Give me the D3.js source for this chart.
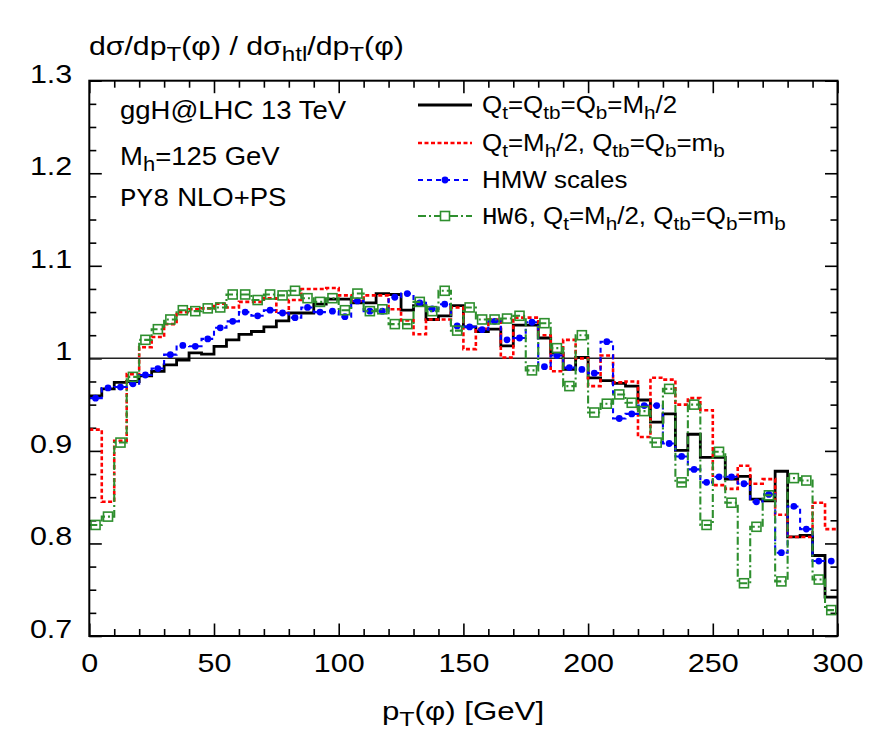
<!DOCTYPE html>
<html>
<head>
<meta charset="utf-8">
<script src="https://cdn.jsdelivr.net/npm/d3@7"></script>
<style>
  body { margin: 0; background: #fff; }
  svg text { font-family: "Liberation Sans", Arial, sans-serif; fill: #000; }
  svg .mono { font-family: "Liberation Mono", "Courier New", monospace; }
</style>
</head>
<body>
<svg id="chart" width="872" height="746"></svg>
<script>
(function () {

// bins of 5 GeV from 0 to 300
const binEdges = d3.range(0, 305, 5);

// Qt=Qtb=Qb=Mh/2
const ratioMh2 = [0.9595, 0.967, 0.974, 0.975, 0.981, 0.986, 0.993, 0.998, 1.006, 1.0045,
  1.013, 1.020, 1.026, 1.029, 1.034, 1.0405, 1.049, 1.049, 1.0585, 1.064,
  1.064, 1.060, 1.060, 1.070, 1.069, 1.052, 1.057, 1.042, 1.046, 1.057,
  1.034, 1.029, 1.0315, 1.0135, 1.036, 1.036, 1.022, 1.0056, 0.988, 1.001,
  0.979, 0.976, 0.973, 0.970, 0.955, 0.931, 0.940, 0.9005, 0.918, 0.893,
  0.893, 0.8695, 0.8724, 0.848, 0.846, 0.878, 0.807, 0.8086, 0.787, 0.742];

// Qt=Mh/2, Qtb=Qb=mb
const ratioMb = [0.923, 0.845, 0.911, 0.983, 1.012, 1.023, 1.037, 1.050, 1.053, 1.054,
  1.059, 1.055, 1.061, 1.061, 1.065, 1.049, 1.063, 1.075, 1.075, 1.076,
  1.068, 1.062, 1.068, 1.068, 1.053, 1.041, 1.026, 1.042, 1.042, 1.055,
  1.010, 1.032, 1.042, 1.001, 1.044, 1.044, 1.025, 0.986, 1.020, 1.000,
  0.970, 1.003, 0.974, 0.975, 0.915, 0.979, 0.977, 0.950, 0.957, 0.944,
  0.863, 0.859, 0.884, 0.8645, 0.8695, 0.831, 0.807, 0.807, 0.844, 0.8155];

// HMW scales
const ratioHMW = [0.957, 0.968, 0.969, 0.9725, 0.982, 0.989, 1.004, 1.014, 1.013, 1.021,
  1.033, 1.040, 1.050, 1.046, 1.052, 1.049, 1.044, 1.055, 1.050, 1.051,
  1.045, 1.062, 1.051, 1.051, 1.066, 1.070, 1.060, 1.0535, 1.0585, 1.035,
  1.034, 1.031, 1.040, 1.020, 1.022, 1.039, 0.991, 1.003, 0.990, 0.988,
  0.984, 1.018, 0.935, 0.940, 0.949, 0.949, 0.908, 0.894, 0.880, 0.866,
  0.872, 0.872, 0.8645, 0.845, 0.853, 0.790, 0.840, 0.8155, 0.781, 0.781];

// HW6, Qt=Mh/2, Qtb=Qb=mb
const ratioHW6 = [0.820, 0.829, 0.909, 0.980, 1.020, 1.0315, 1.042, 1.052, 1.051, 1.054,
  1.055, 1.069, 1.069, 1.063, 1.069, 1.068, 1.073, 1.065, 1.061, 1.065,
  1.052, 1.070, 1.051, 1.053, 1.037, 1.037, 1.061, 1.051, 1.073, 1.030,
  1.055, 1.042, 1.042, 1.043, 1.046, 0.987, 1.038, 1.011, 0.970, 1.025,
  0.9415, 0.951, 0.961, 0.952, 0.943, 0.909, 0.967, 0.866, 0.950, 0.820,
  0.899, 0.844, 0.757, 0.818, 0.852, 0.759, 0.8706, 0.868, 0.761, 0.728];

const xTicksMajor = [0, 50, 100, 150, 200, 250, 300];
const yTicksMajor = [0.7, 0.8, 0.9, 1.0, 1.1, 1.2, 1.3];

const series = [
  {name: 'mh2', values: ratioMh2, color: '#000000', width: 2.8, dash: null, marker: null,
   label: [['Q'], ['t', 1], ['=Q'], ['tb', 1], ['=Q'], ['b', 1], ['=M'], ['h', 1], ['/2']]},
  {name: 'mb', values: ratioMb, color: '#ff0000', width: 2.6, dash: '4,2.5', marker: null,
   label: [['Q'], ['t', 1], ['=M'], ['h', 1], ['/2, Q'], ['tb', 1], ['=Q'], ['b', 1], ['=m'], ['b', 1]]},
  {name: 'hmw', values: ratioHMW, color: '#0000ff', width: 2.1, dash: '5,4', marker: 'dot',
   label: [['HMW scales']]},
  {name: 'hw6', values: ratioHW6, color: '#2e8f2e', width: 2.1, dash: '8,3,2,3', marker: 'square',
   label: [['HW6', 0, 'mono'], [', Q'], ['t', 1], ['=M'], ['h', 1], ['/2, Q'], ['tb', 1], ['=Q'], ['b', 1], ['=m'], ['b', 1]]}
];

const svg = d3.select('#chart'),
    margin = {top: 80.7, right: 34.5, bottom: 110, left: 89.3},
    width = +svg.attr('width') - margin.left - margin.right,
    height = +svg.attr('height') - margin.top - margin.bottom;

const x = d3.scaleLinear().domain([0, 300]).range([0, width]);
const y = d3.scaleLinear().domain([0.7, 1.3]).range([height, 0]);

const g = svg.append('g')
  .attr('transform', 'translate(' + margin.left + ',' + margin.top + ')');

g.append('clipPath').attr('id', 'plotclip')
  .append('rect').attr('width', width).attr('height', height);

// write text with subscripts; segments are [text, isSub, cls]
// the reference font is wider than ours, so text gets stretched by sx
function richText(parent, segs, size, px, py, sx) {
  const t = parent.append('text')
    .style('font-size', size + 'px')
    .attr('transform', 'translate(' + px + ',' + py + ') scale(' + sx + ',1)');
  let down = false;
  segs.forEach(function(s) {
    const sp = t.append('tspan').text(s[0]);
    if (s[2]) sp.attr('class', s[2]);
    if (s[1]) {
      sp.style('font-size', (size * 0.8) + 'px');
      if (!down) sp.attr('dy', 6);
      down = true;
    } else if (down) {
      sp.attr('dy', -6);
      down = false;
    }
  });
  return t;
}

// axes: ticks inward on all four sides
const tickStretch = 1.22;
const fmt = function(d) { return String(+d.toFixed(1)); };
const xMinor = d3.range(0, 301, 10).filter(function(d) { return d % 50 !== 0; });
const yMinor = d3.range(0, 25).map(function(i) { return 0.7 + i * 0.025; })
  .filter(function(d, i) { return i % 4 !== 0; });

function tickAxis(axisFn, scale, values, size, withLabels, pad) {
  const a = axisFn(scale).tickValues(values).tickSize(-size).tickSizeOuter(0).tickPadding(pad || 0);
  if (!withLabels) a.tickFormat('');
  else a.tickFormat(fmt);
  return a;
}

const axes = [
  {fn: d3.axisBottom, s: x, tr: 'translate(0,' + height + ')', major: xTicksMajor, minor: xMinor, lab: true, pad: 18},
  {fn: d3.axisTop, s: x, tr: 'translate(0,0)', major: xTicksMajor, minor: xMinor, lab: false},
  {fn: d3.axisLeft, s: y, tr: 'translate(0,0)', major: yTicksMajor, minor: yMinor, lab: true, pad: 17},
  {fn: d3.axisRight, s: y, tr: 'translate(' + width + ',0)', major: yTicksMajor, minor: yMinor, lab: false}
];

axes.forEach(function(ax) {
  const gm = g.append('g').attr('transform', ax.tr)
    .call(tickAxis(ax.fn, ax.s, ax.minor, 7, false));
  const gM = g.append('g').attr('transform', ax.tr)
    .call(tickAxis(ax.fn, ax.s, ax.major, 12.5, ax.lab, ax.pad));
  [gm, gM].forEach(function(sel) {
    sel.select('.domain').remove();
    sel.selectAll('.tick line').attr('stroke', '#000').attr('stroke-width', 1.6);
    sel.selectAll('.tick text')
      .attr('fill', '#000')
      .attr('transform', 'scale(' + tickStretch + ',1)')
      .style('font-family', '"Liberation Sans", Arial, sans-serif')
      .style('font-size', '25px');
  });
  if (ax.fn === d3.axisLeft) {
    gM.selectAll('.tick text').attr('dy', '0.06em').attr('x', -ax.pad / tickStretch);
  }
});

// reference line at 1
g.append('line')
  .attr('x1', 0).attr('x2', width)
  .attr('y1', y(1)).attr('y2', y(1))
  .attr('stroke', '#222').attr('stroke-width', 1.5);

// histograms
const plot = g.append('g').attr('clip-path', 'url(#plotclip)');

const stepLine = d3.line()
  .x(function(d) { return x(d[0]); })
  .y(function(d) { return y(d[1]); });

series.forEach(function(s) {
  const pts = [];
  s.values.forEach(function(v, i) {
    pts.push([binEdges[i], v]);
    pts.push([binEdges[i + 1], v]);
  });
  plot.append('path')
    .datum(pts)
    .attr('class', 'hist hist-' + s.name)
    .attr('d', stepLine)
    .attr('fill', 'none')
    .attr('stroke', s.color)
    .attr('stroke-width', s.width)
    .attr('stroke-dasharray', s.dash);

  const centers = s.values.map(function(v, i) { return [(binEdges[i] + binEdges[i + 1]) / 2, v]; });
  if (s.marker === 'dot') {
    plot.selectAll('.dot-' + s.name)
      .data(centers)
      .enter().append('circle')
        .attr('cx', function(d) { return x(d[0]); })
        .attr('cy', function(d) { return y(d[1]); })
        .attr('r', 3.4)
        .attr('fill', s.color);
  } else if (s.marker === 'square') {
    plot.selectAll('.sq-' + s.name)
      .data(centers)
      .enter().append('rect')
        .attr('x', function(d) { return x(d[0]) - 4.5; })
        .attr('y', function(d) { return y(d[1]) - 4.5; })
        .attr('width', 9).attr('height', 9)
        .attr('fill', 'none')
        .attr('stroke', s.color)
        .attr('stroke-width', 1.6);
  }
});

// frame
g.append('rect')
  .attr('width', width).attr('height', height)
  .attr('fill', 'none').attr('stroke', '#000').attr('stroke-width', 2);

// legend
const legendRows = [105, 143, 180, 216];
const legend = svg.append('g').attr('class', 'legend');
series.forEach(function(s, i) {
  const ly = legendRows[i];
  legend.append('line')
    .attr('x1', 418).attr('x2', 472).attr('y1', ly).attr('y2', ly)
    .attr('stroke', s.color).attr('stroke-width', s.width)
    .attr('stroke-dasharray', s.dash);
  if (s.marker === 'dot') {
    legend.append('circle').attr('cx', 445).attr('cy', ly).attr('r', 3.4).attr('fill', s.color);
  } else if (s.marker === 'square') {
    legend.append('rect').attr('x', 440.5).attr('y', ly - 4.5).attr('width', 9).attr('height', 9)
      .attr('fill', '#fff').attr('stroke', s.color).attr('stroke-width', 1.6);
  }
  richText(legend, s.label, 24, 482, ly + 8, 1.08);
});

// annotations
richText(svg, [['ggH@LHC 13 TeV']], 25, 120, 119, 1.1);
richText(svg, [['M'], ['h', 1], ['=125 GeV']], 25, 120, 165, 1.1);
richText(svg, [['PY8', 0, 'mono'], [' NLO+PS']], 25, 120, 206, 1.1);

// axis titles
richText(svg, [['dσ/dp'], ['T', 1], ['(φ) / dσ'], ['htl', 1], ['/dp'], ['T', 1], ['(φ)']], 25, 89, 55, 1.21);
richText(svg, [['p'], ['T', 1], ['(φ) [GeV]']], 25, 463, 720, 1.25)
  .attr('text-anchor', 'middle');

})();
</script>
</body>
</html>
